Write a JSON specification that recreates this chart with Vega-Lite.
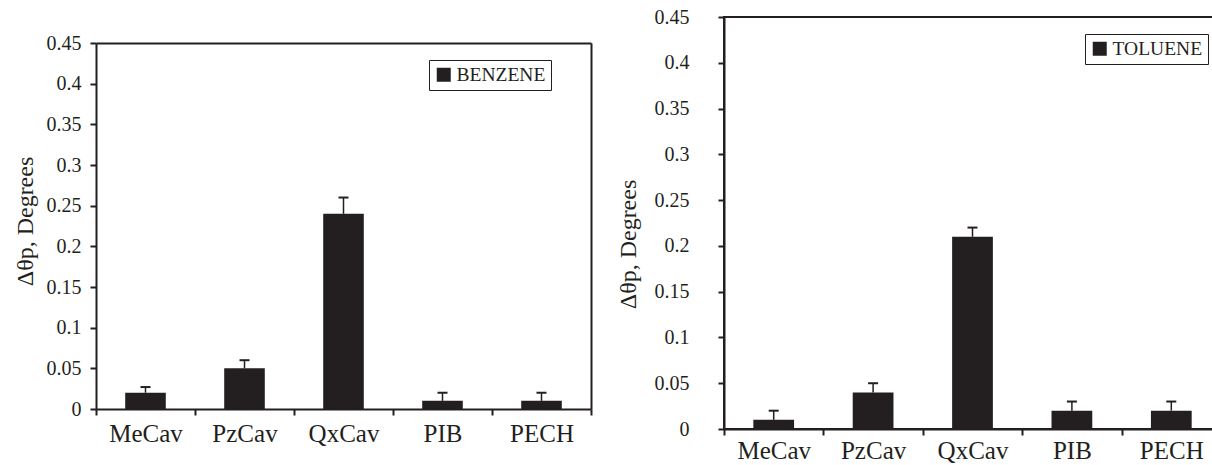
{
  "$schema": "https://vega.github.io/schema/vega-lite/v6.json",
  "background": "white",
  "padding": {"left": 13, "top": 6, "right": 0, "bottom": 0},
  "spacing": 23,
  "config": {
    "font": "Liberation Serif",
    "view": {"stroke": "#231f20", "strokeWidth": 2},
    "axis": {
      "domainColor": "#231f20", "domainWidth": 2, "tickColor": "#231f20", "tickWidth": 2, "tickSize": 6,
      "labelColor": "#231f20", "titleColor": "#231f20", "labelFont": "Liberation Serif", "titleFont": "Liberation Serif",
      "titleFontWeight": "normal", "grid": false
    },
    "legend": {"labelFont": "Liberation Serif", "labelColor": "#231f20"}
  },
  "resolve": {"scale": {"color": "independent", "y": "independent", "x": "independent"}, "legend": {"color": "independent"}},
  "datasets": {
    "benzene": [
      {"polymer": "MeCav", "value": 0.02, "hi": 0.027, "solvent": "BENZENE"},
      {"polymer": "PzCav", "value": 0.05, "hi": 0.06, "solvent": "BENZENE"},
      {"polymer": "QxCav", "value": 0.24, "hi": 0.26, "solvent": "BENZENE"},
      {"polymer": "PIB", "value": 0.01, "hi": 0.02, "solvent": "BENZENE"},
      {"polymer": "PECH", "value": 0.01, "hi": 0.02, "solvent": "BENZENE"}
    ],
    "toluene": [
      {"polymer": "MeCav", "value": 0.01, "hi": 0.02, "solvent": "TOLUENE"},
      {"polymer": "PzCav", "value": 0.04, "hi": 0.05, "solvent": "TOLUENE"},
      {"polymer": "QxCav", "value": 0.21, "hi": 0.22, "solvent": "TOLUENE"},
      {"polymer": "PIB", "value": 0.02, "hi": 0.03, "solvent": "TOLUENE"},
      {"polymer": "PECH", "value": 0.02, "hi": 0.03, "solvent": "TOLUENE"}
    ]
  },
  "hconcat": [
    {
      "width": 495, "height": 412,
      "view": {"stroke": null},
      "data": {"name": "benzene"},
      "resolve": {"axis": {"x": "independent", "y": "independent"}},
      "layer": [
        {
          "encoding": {
            "x": {"field": "polymer", "type": "nominal", "sort": null,
                  "scale": {"paddingInner": 0, "paddingOuter": 0},
                  "axis": {"title": null, "labelAngle": 0, "labelFontSize": 25, "labelPadding": 6, "tickBand": "extent", "offset": -20, "orient": "bottom"}},
            "y": {"field": "value", "type": "quantitative",
                  "scale": {"domain": [0, 0.45], "nice": false, "zero": true, "range": [392, 26]},
                  "axis": {"title": "Δθp, Degrees", "titleFontSize": 24, "titlePadding": 9, "titleY": 204, "orient": "left",
                           "values": [0, 0.05, 0.1, 0.15, 0.2, 0.25, 0.3, 0.35, 0.4, 0.45], "format": "~g",
                           "labelFontSize": 20, "labelPadding": 9}}
          },
          "layer": [
            {
              "mark": {"type": "bar", "width": {"band": 0.41}},
              "encoding": {
                "color": {"field": "solvent", "type": "nominal",
                          "scale": {"domain": ["BENZENE"], "range": ["#231f20"]},
                          "legend": {"title": null, "orient": "none", "legendX": 333, "legendY": 43,
                                     "fillColor": "white", "strokeColor": "#231f20", "padding": 5,
                                     "symbolType": "square", "symbolSize": 196, "symbolStrokeWidth": 0,
                                     "labelFontSize": 19.5, "labelOffset": 3}}
              }
            },
            {
              "mark": {"type": "rule", "color": "#231f20", "strokeWidth": 1.5},
              "encoding": {"y2": {"field": "hi"}}
            },
            {
              "mark": {"type": "tick", "color": "#231f20", "size": 10, "thickness": 2, "opacity": 1},
              "encoding": {"y": {"field": "hi", "type": "quantitative"}}
            }
          ]
        },
        {
          "mark": {"type": "tick", "opacity": 0},
          "encoding": {
            "x": {"field": "polymer", "type": "nominal", "sort": null,
                  "axis": {"orient": "top", "title": null, "labels": false, "ticks": false, "domain": true, "offset": -26}},
            "y": {"field": "value", "type": "quantitative",
                  "axis": {"orient": "right", "title": null, "labels": false, "ticks": false, "domain": true}}
          }
        }
      ]
    },
    {
      "width": 497, "height": 412,
      "data": {"name": "toluene"},
      "encoding": {
        "x": {"field": "polymer", "type": "nominal", "sort": null,
              "scale": {"paddingInner": 0, "paddingOuter": 0},
              "axis": {"title": null, "labelAngle": 0, "labelFontSize": 25, "labelPadding": 3, "tickBand": "extent"}}
      },
      "layer": [
        {
          "mark": {"type": "bar", "width": {"band": 0.41}},
          "encoding": {
            "y": {"field": "value", "type": "quantitative",
                  "scale": {"domain": [0, 0.45], "nice": false, "zero": true},
                  "axis": {"title": "Δθp, Degrees", "titleFontSize": 24, "titlePadding": 14, "titleY": 227,
                           "values": [0, 0.05, 0.1, 0.15, 0.2, 0.25, 0.3, 0.35, 0.4, 0.45], "format": "~g",
                           "labelFontSize": 20, "labelPadding": 29}},
            "color": {"field": "solvent", "type": "nominal",
                      "scale": {"domain": ["TOLUENE"], "range": ["#231f20"]},
                      "legend": {"title": null, "orient": "none", "legendX": 361, "legendY": 17,
                                 "fillColor": "white", "strokeColor": "#231f20", "padding": 5,
                                 "symbolType": "square", "symbolSize": 196, "symbolStrokeWidth": 0,
                                 "labelFontSize": 19.5, "labelOffset": 3}}
          }
        },
        {
          "mark": {"type": "rule", "color": "#231f20", "strokeWidth": 1.5},
          "encoding": {"y": {"field": "value", "type": "quantitative"}, "y2": {"field": "hi"}}
        },
        {
          "mark": {"type": "tick", "color": "#231f20", "size": 10, "thickness": 2, "opacity": 1},
          "encoding": {"y": {"field": "hi", "type": "quantitative"}}
        }
      ]
    }
  ]
}
